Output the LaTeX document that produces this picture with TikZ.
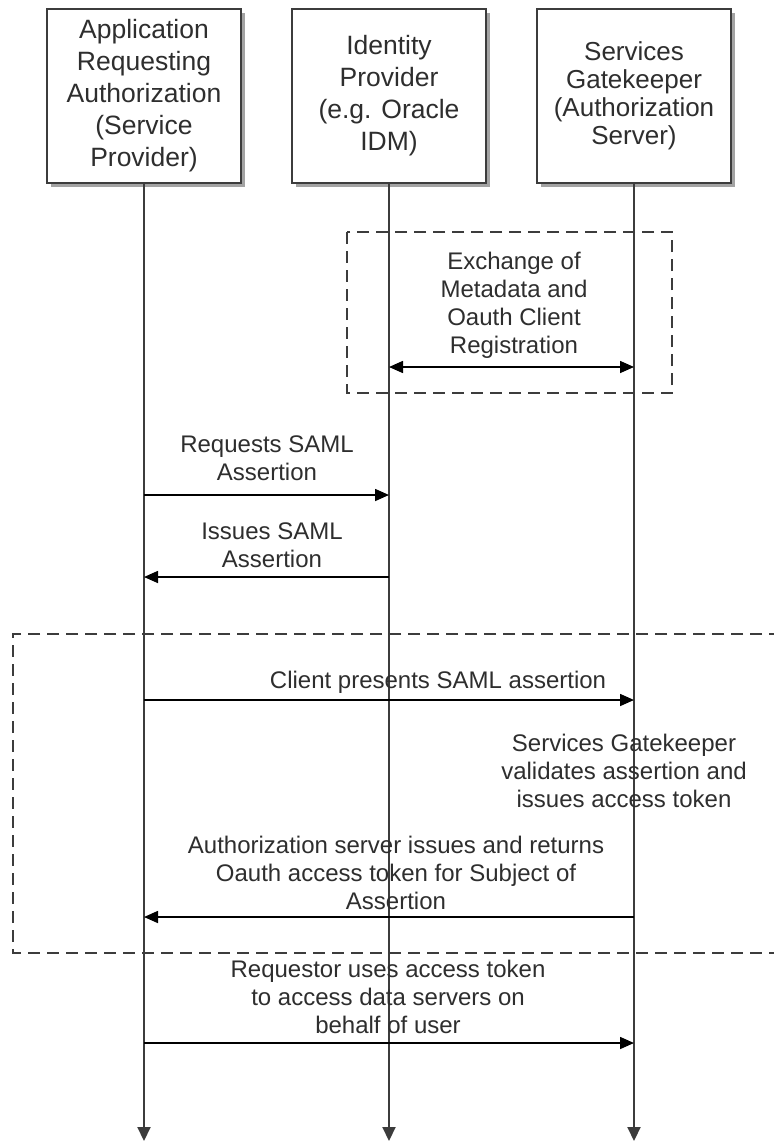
\documentclass[tikz,border=0pt]{standalone}
\usepackage{fontspec}
\setmainfont{Liberation Sans}
\usetikzlibrary{arrows.meta,shadows}
\definecolor{txt}{HTML}{2E2E2E}
\definecolor{ln}{HTML}{3C3C3C}
\begin{document}
\begin{tikzpicture}[x=1pt,y=-1pt,
  actor/.style={draw=ln,line width=2pt,fill=white,minimum width=194pt,minimum height=174pt,inner sep=0pt,align=center,text=txt,
    drop shadow={shadow xshift=4pt,shadow yshift=-4pt,fill=black!45,opacity=0.8}},
  bigtxt/.style={font=\fontsize{26.5}{32}\selectfont},
  smalltxt/.style={font=\fontsize{26}{28}\selectfont},
  lbl/.style={align=center,text=txt,inner sep=0pt,font=\fontsize{24}{28}\selectfont},
  lifeline/.style={draw=ln,line width=2pt,-{Triangle[length=14pt,width=13pt]},color=ln},
  msg/.style={draw=black,line width=1.6pt,-{Triangle[length=14pt,width=12pt]}},
  dmsg/.style={draw=black,line width=1.6pt,{Triangle[length=14pt,width=12pt]}-{Triangle[length=14pt,width=12pt]}},
  dbox/.style={draw=ln,line width=2.2pt,dash pattern=on 12pt off 7pt}]
\useasboundingbox (0,0) rectangle (773,1142);
\fill[white] (0,0) rectangle (773,1142);

% dashed frames
\draw[dbox] (347,232) rectangle (672,393);
\draw[dbox] (800,634) -- (13,634) -- (13,953) -- (800,953);

% actors
\node[actor,bigtxt] (b1) at (144,96) {Application\\Requesting\\Authorization\\(Service\\Provider)};
\node[actor,bigtxt] (b2) at (389,96) {Identity\\Provider\\(e.g. Oracle\\IDM)};
\node[actor,smalltxt] (b3) at (634,96) {Services\\Gatekeeper\\(Authorization\\Server)};

% lifeline ends
\coordinate (e1) at (144,1141);
\coordinate (e2) at (389,1141);
\coordinate (e3) at (634,1141);
\draw[lifeline] (b1.south) -- (e1);
\draw[lifeline] (b2.south) -- (e2);
\draw[lifeline] (b3.south) -- (e3);

% message end points
\coordinate (x2a) at (389,367); \coordinate (x3a) at (634,367);
\coordinate (r1) at (144,495); \coordinate (r2) at (389,495);
\coordinate (i2) at (389,577); \coordinate (i1) at (144,577);
\coordinate (c1) at (144,700); \coordinate (c3) at (634,700);
\coordinate (a3) at (634,917); \coordinate (a1) at (144,917);
\coordinate (q1) at (144,1043); \coordinate (q3) at (634,1043);

\draw[dmsg] (x2a) -- (x3a);
\draw[msg] (r1) -- (r2);
\draw[msg] (i2) -- (i1);
\draw[msg] (c1) -- (c3);
\draw[msg] (a3) -- (a1);
\draw[msg] (q1) -- (q3);

% labels
\node[lbl] (lx) at (514,305) {Exchange of\\Metadata and\\Oauth Client\\Registration};
\node[lbl] (lr) at (267,458) {Requests SAML\\Assertion};
\node[lbl] (li) at (272,545) {Issues SAML\\Assertion};
\node[lbl] (lc) at (438,682) {Client presents SAML assertion};
\node[lbl] (ls) at (624,771) {Services Gatekeeper\\validates assertion and\\issues access token};
\node[lbl] (la) at (396,873) {Authorization server issues and returns\\Oauth access token for Subject of\\Assertion};
\node[lbl] (lq) at (388,997) {Requestor uses access token\\to access data servers on\\behalf of user};
\end{tikzpicture}
\end{document}
